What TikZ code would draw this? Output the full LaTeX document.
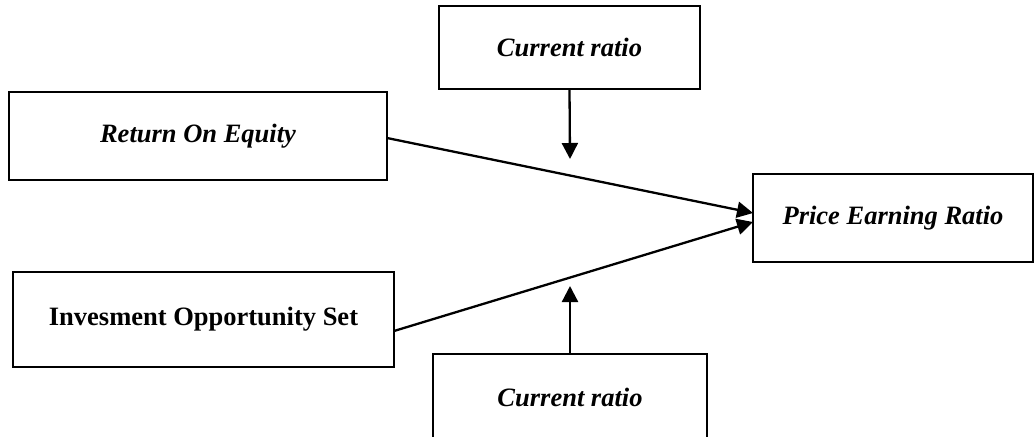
\documentclass[tikz,border=0pt]{standalone}
\usepackage{fontspec}
\setmainfont{Liberation Serif}
\usetikzlibrary{arrows.meta}
\begin{document}
\begin{tikzpicture}[x=1pt,y=-1pt,
  box/.style={draw, line width=2.1pt, inner sep=0pt, outer sep=0pt, align=center,
    font=\fontsize{26.5}{30}\selectfont\bfseries},
  link/.style={line width=2.3pt, -{Triangle[length=16pt,width=16pt]}}]
\useasboundingbox (0,0) rectangle (1035,436);
\node[box, minimum width=261pt, minimum height=83pt] (cr1) at (569.5,47.5) {\itshape Current ratio};
\node[box, minimum width=378pt, minimum height=88pt] (roe) at (198,136) {\itshape Return On Equity};
\node[box, minimum width=280pt, minimum height=88pt] (per) at (893,218) {\itshape Price Earning Ratio};
\node[box, minimum width=381pt, minimum height=95pt] (ios) at (203.5,319.5) {Invesment Opportunity Set};
\node[box, minimum width=274pt, minimum height=87pt] (cr2) at (570,397.5) {\itshape Current ratio};
\coordinate (t1) at (570,159);
\coordinate (t2) at (570,286);
\draw[link] ([yshift=-2pt]roe.east) -- ([yshift=5pt]per.west);
\draw[link] ([yshift=-11.5pt]ios.east) -- ([yshift=-4pt]per.west);
\draw[link] (cr1.south) -- (t1);
\draw[link] (cr2.north) -- (t2);
\end{tikzpicture}
\end{document}
